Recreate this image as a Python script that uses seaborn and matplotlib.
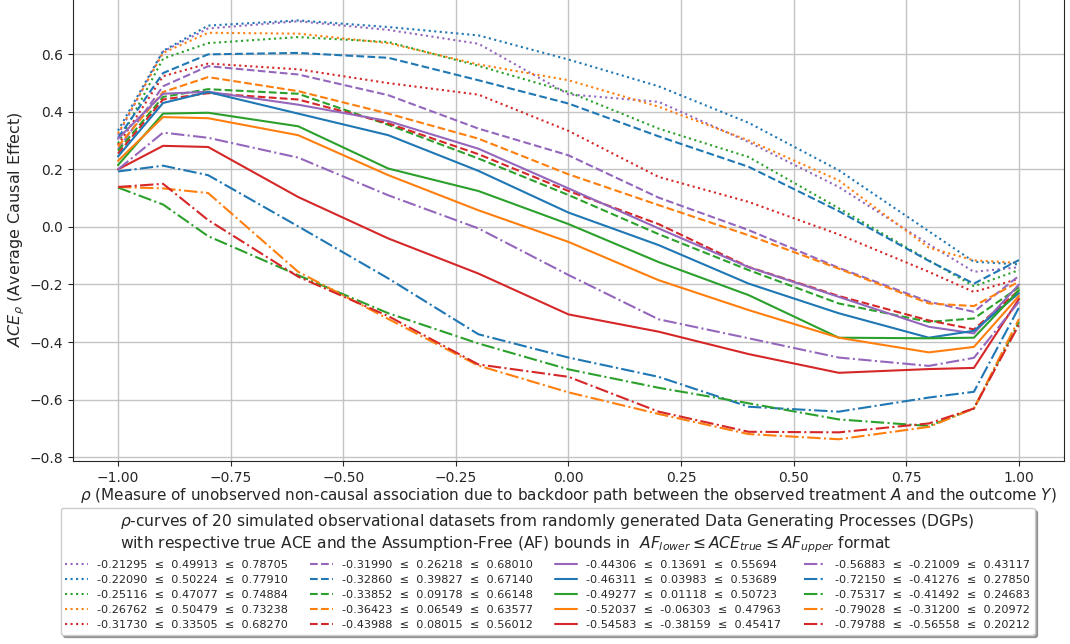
import numpy as np
import pandas as pd
import matplotlib
matplotlib.use("Agg")
import matplotlib.pyplot as plt
import seaborn as sns

rho = [-1.0, -0.9, -0.8, -0.6, -0.4, -0.2, 0.0, 0.2, 0.4, 0.6, 0.8, 0.9, 1.0]

labels = [
    "-0.21295  ≤  0.49913  ≤  0.78705",
    "-0.22090  ≤  0.50224  ≤  0.77910",
    "-0.25116  ≤  0.47077  ≤  0.74884",
    "-0.26762  ≤  0.50479  ≤  0.73238",
    "-0.31730  ≤  0.33505  ≤  0.68270",
    "-0.31990  ≤  0.26218  ≤  0.68010",
    "-0.32860  ≤  0.39827  ≤  0.67140",
    "-0.33852  ≤  0.09178  ≤  0.66148",
    "-0.36423  ≤  0.06549  ≤  0.63577",
    "-0.43988  ≤  0.08015  ≤  0.56012",
    "-0.44306  ≤  0.13691  ≤  0.55694",
    "-0.46311  ≤  0.03983  ≤  0.53689",
    "-0.49277  ≤  0.01118  ≤  0.50723",
    "-0.52037  ≤  -0.06303  ≤  0.47963",
    "-0.54583  ≤  -0.38159  ≤  0.45417",
    "-0.56883  ≤  -0.21009  ≤  0.43117",
    "-0.72150  ≤  -0.41276  ≤  0.27850",
    "-0.75317  ≤  -0.41492  ≤  0.24683",
    "-0.79028  ≤  -0.31200  ≤  0.20972",
    "-0.79788  ≤  -0.56558  ≤  0.20212",
]

# ACE_rho curves (one list per simulated dataset, in legend order)
ace_01 = [0.320, 0.610, 0.690, 0.715, 0.685, 0.637, 0.461, 0.435, 0.295, 0.139, -0.060, -0.156, -0.140]
ace_02 = [0.335, 0.612, 0.700, 0.718, 0.695, 0.666, 0.582, 0.489, 0.362, 0.197, -0.015, -0.121, -0.130]
ace_03 = [0.290, 0.585, 0.639, 0.660, 0.643, 0.560, 0.469, 0.342, 0.243, 0.065, -0.116, -0.206, -0.150]
ace_04 = [0.325, 0.605, 0.675, 0.672, 0.639, 0.565, 0.510, 0.418, 0.301, 0.162, -0.072, -0.116, -0.125]
ace_05 = [0.285, 0.524, 0.568, 0.548, 0.500, 0.460, 0.334, 0.174, 0.087, -0.026, -0.156, -0.226, -0.180]
ace_06 = [0.270, 0.489, 0.559, 0.530, 0.458, 0.342, 0.249, 0.102, -0.011, -0.142, -0.260, -0.295, -0.170]
ace_07 = [0.310, 0.535, 0.600, 0.605, 0.588, 0.510, 0.429, 0.315, 0.209, 0.055, -0.118, -0.197, -0.115]
ace_08 = [0.265, 0.452, 0.479, 0.463, 0.355, 0.238, 0.111, -0.025, -0.150, -0.266, -0.330, -0.318, -0.210]
ace_09 = [0.280, 0.469, 0.521, 0.472, 0.394, 0.307, 0.183, 0.076, -0.029, -0.145, -0.266, -0.275, -0.190]
ace_10 = [0.255, 0.443, 0.465, 0.443, 0.360, 0.253, 0.125, 0.010, -0.139, -0.240, -0.325, -0.356, -0.220]
ace_11 = [0.307, 0.463, 0.470, 0.425, 0.368, 0.272, 0.134, -0.005, -0.140, -0.243, -0.347, -0.370, -0.200]
ace_12 = [0.245, 0.431, 0.469, 0.394, 0.319, 0.195, 0.050, -0.063, -0.197, -0.300, -0.385, -0.361, -0.230]
ace_13 = [0.215, 0.394, 0.397, 0.350, 0.203, 0.125, 0.010, -0.122, -0.237, -0.385, -0.387, -0.385, -0.220]
ace_14 = [0.230, 0.382, 0.378, 0.319, 0.180, 0.058, -0.052, -0.185, -0.289, -0.385, -0.436, -0.417, -0.240]
ace_15 = [0.200, 0.282, 0.278, 0.104, -0.040, -0.162, -0.304, -0.364, -0.442, -0.507, -0.494, -0.490, -0.250]
ace_16 = [0.200, 0.328, 0.310, 0.241, 0.110, -0.005, -0.167, -0.321, -0.387, -0.454, -0.483, -0.455, -0.260]
ace_17 = [0.193, 0.213, 0.180, 0.002, -0.179, -0.373, -0.454, -0.521, -0.625, -0.642, -0.593, -0.573, -0.280]
ace_18 = [0.137, 0.078, -0.032, -0.168, -0.300, -0.405, -0.495, -0.559, -0.613, -0.669, -0.692, -0.631, -0.330]
ace_19 = [0.139, 0.134, 0.118, -0.156, -0.320, -0.482, -0.575, -0.650, -0.720, -0.738, -0.695, -0.631, -0.320]
ace_20 = [0.139, 0.150, 0.024, -0.173, -0.310, -0.478, -0.521, -0.642, -0.712, -0.714, -0.683, -0.631, -0.340]

curves = [ace_01, ace_02, ace_03, ace_04, ace_05, ace_06, ace_07, ace_08, ace_09, ace_10,
          ace_11, ace_12, ace_13, ace_14, ace_15, ace_16, ace_17, ace_18, ace_19, ace_20]

colors = ["tab:purple", "tab:blue", "tab:green", "tab:orange", "tab:red"]
styles = [":", "--", "-", "-."]

sns.set_style("ticks", {"axes.grid": True, "grid.color": "#c4c4c4"})
plt.rcParams["font.family"] = ["DejaVu Sans"]

fig = plt.figure(figsize=(10.7, 6.44), dpi=100)
ax = fig.add_axes([0.0682, 0.2842, 0.9262, 0.7185])

for i, (vals, lab) in enumerate(zip(curves, labels)):
    df = pd.DataFrame({"rho": rho, "ace": vals})
    sns.lineplot(data=df, x="rho", y="ace", ax=ax, color=colors[i % 5],
                 linestyle=styles[i // 5], linewidth=1.5, label=lab)

ax.set_xlim(-1.1, 1.1)
ax.set_ylim(-0.8135, 0.795)
ax.set_xticks([-1.0, -0.75, -0.5, -0.25, 0.0, 0.25, 0.5, 0.75, 1.0])
ax.set_xticklabels(["−1.00", "−0.75", "−0.50", "−0.25", "0.00", "0.25", "0.50", "0.75", "1.00"])
ax.set_yticks([-0.8, -0.6, -0.4, -0.2, 0.0, 0.2, 0.4, 0.6])
ax.tick_params(labelsize=10)
ax.grid(True, color="#c4c4c4", linewidth=1.0)
ax.spines["top"].set_visible(False)

ax.set_xlabel(r"$\rho$ (Measure of unobserved non-causal association due to backdoor path between the observed treatment $A$ and the outcome $Y$)",
              fontsize=11, labelpad=1)
ax.set_ylabel(r"$ACE_{\rho}$ (Average Causal Effect)", fontsize=11.5, labelpad=2)

title = (r"$\rho$-curves of 20 simulated observational datasets from randomly generated Data Generating Processes (DGPs)"
         "\n"
         r"with respective true ACE and the Assumption-Free (AF) bounds in  $AF_{lower} \leq ACE_{true} \leq AF_{upper}$ format")
leg = ax.legend(loc="upper center", bbox_to_anchor=(0.479, -0.1016), ncol=4,
                fontsize=8.1, title=title, title_fontsize=11.2, shadow=True,
                fancybox=True, borderaxespad=0, frameon=True, labelspacing=0.45)
leg.get_frame().set_edgecolor("#cccccc")

fig.savefig("out.png", dpi=100)
